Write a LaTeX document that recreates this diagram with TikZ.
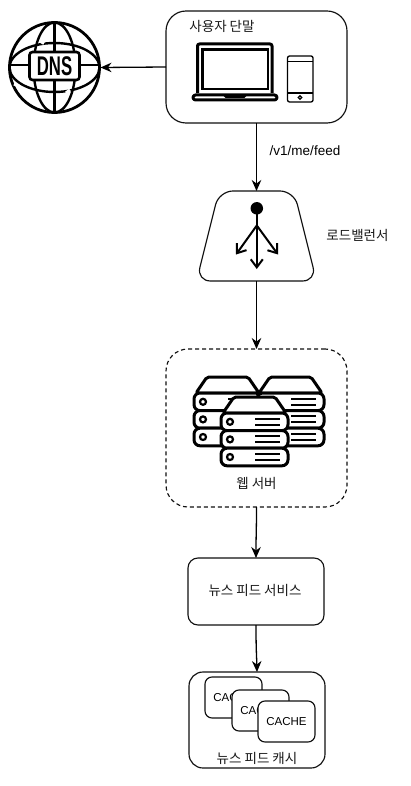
\documentclass[tikz,border=0pt]{standalone}
\usepackage{fontspec}
\setmainfont{Liberation Sans}
\newfontfamily\krfont{Noto Sans CJK KR}
\usetikzlibrary{arrows.meta,shapes.geometric}
\definecolor{edge}{HTML}{101010}
\tikzset{
  flow/.style={draw=black,line width=1.3pt,-{Stealth[length=11pt,width=9.5pt]}},
  panel/.style={draw=edge,line width=1.15pt,fill=white,rounded corners=#1,inner sep=0pt,outer sep=0pt,anchor=north west},
  label/.style={font=\krfont\fontsize{13.5}{16}\selectfont,inner sep=0pt,text=black!90},
  icon/.style={line width=3pt,line join=round,draw=black},
  barbline/.style={line width=2pt,-{Straight Barb[length=8pt,width=12pt,line width=2pt]}},
  serverrack/.pic={
    \draw[icon,fill=white,rounded corners=2pt] (2,16) -- (13,0) -- (54,0) -- (65,16) -- cycle;
    \foreach \r in {0,1,2}{
      \begin{scope}[shift={(0,16+\r*17.6)}]
        \draw[icon,fill=white,rounded corners=6pt] (0,0) rectangle (67,17.6);
        \draw[line width=2.2pt] (9,8.8) circle (3);
        \draw[line width=2pt] (34,5.8) -- (59,5.8) (34,11.5) -- (59,11.5);
      \end{scope}
    }
  }
}
\begin{document}
\begin{tikzpicture}[x=1pt,y=-1pt,every node/.append style={align=center}]
\useasboundingbox (0,0) rectangle (410,786);
\fill[white] (0,0) rectangle (410,786);

% DNS globe
\node[circle,draw=black,line width=2.8pt,minimum size=90pt,inner sep=0pt,outer sep=1pt] (dns) at (54.5,67.5) {};
\begin{scope}[line width=2.4pt]
  \draw (54.5,22.5) -- (54.5,112.5);
  \draw (9.5,65) -- (99.5,65);
  \draw (54.5,67.5) ellipse (21 and 45);
  \draw (54.5,67.5) ellipse (45 and 24.5);
\end{scope}
\draw[white,line width=3pt] (40,41) -- (44,43.5) (66,93) -- (70,90) (14,84) -- (19,86) (36,103) -- (36,106);
\node[draw=black,line width=2.6pt,fill=white,rounded corners=3pt,minimum width=50pt,minimum height=28pt,inner sep=0pt] (dnslabel) at (54.5,66) {\fontsize{27}{27}\selectfont\bfseries\scalebox{0.62}[1]{DNS}};

% User terminal
\node[panel=20pt,minimum width=181pt,minimum height=112pt] (user) at (166,11) {};
\node[label,font=\krfont\fontsize{13.5}{16}\selectfont] (userlabel) at (222,26.5) {사용자 단말};
\draw[icon,rounded corners=2pt] (197.5,93) -- (197.5,44) -- (272,44) -- (272,93);
\draw[line width=2.4pt] (202.5,49.5) rectangle (268,89);
\draw[icon,rounded corners=2.5pt,fill=white] (193,95) rectangle (277,100);
\draw[line width=2pt] (224,95) -- (226,97) -- (244,97) -- (246,95);
\draw[draw=black,line width=1.3pt,rounded corners=2pt] (287.5,56) rectangle (313,102);
\draw[draw=black,line width=1.3pt] (287.5,61.5) -- (313,61.5) (287.5,93) -- (313,93);
\draw[line width=1.2pt] (300,97.5) circle (1.8);

% Load balancer
\coordinate (lbtop) at (256.5,191);
\coordinate (lbbot) at (256.5,281);
\draw[draw=edge,line width=1.15pt,rounded corners=14pt] (lbtop) -- (219,191) -- (196.5,281) -- (lbbot) -- (316.5,281) -- (294,191) -- cycle;
\node[circle,fill=black,minimum size=12.5pt,inner sep=0pt] (dot) at (256.8,208.3) {};
\draw[barbline] (dot.center) -- (256.8,269);
\coordinate (fork) at (256.8,225.5);
\coordinate (forkl) at (236,254.5);
\coordinate (forkr) at (278,254.5);
\draw[barbline] (fork) -- (forkl);
\draw[barbline] (fork) -- (forkr);
\node[label] (lblabel) at (357.5,235.5) {로드밸런서};

% Web server
\node[panel=22pt,dash pattern=on 4pt off 3pt,minimum width=181pt,minimum height=158pt] (web) at (166,349) {};
\pic at (194,377) {serverrack};
\pic at (257,377) {serverrack};
\pic at (221,397) {serverrack};
\node[label] (weblabel) at (256.5,483) {웹 서버};

% Feed service
\node[panel=10pt,minimum width=136pt,minimum height=67pt] (svc) at (188,558) {};
\node[label] (svclabel) at (255,590.5) {뉴스 피드 서비스};

% Feed cache
\node[panel=14pt,minimum width=136pt,minimum height=96pt] (cache) at (189,672) {};
\foreach \n/\x/\y in {a/205/677,b/232/690,c/258/701}{
  \node[panel=7pt,minimum width=57pt,minimum height=41pt,font=\fontsize{11.5}{13}\selectfont] (cache\n) at (\x,\y) {CACHE};
}
\node[label] (cachelabel) at (257,758) {뉴스 피드 캐시};

% Connectors
\draw[flow] (user.west) -- (dns.east);
\draw[flow] (user.south) -- (lbtop);
\draw[flow] (lbbot) -- (web.north);
\draw[flow] (web.south) .. controls (256.5,530) and (256,535) .. (svc.north);
\draw[flow] (svc.south) .. controls (256,650) and (256.6,655) .. (cache.north);
\node[font=\fontsize{13.5}{15}\selectfont,inner sep=0pt] (feedlabel) at (305,151) {/v1/me/feed};
\end{tikzpicture}
\end{document}
